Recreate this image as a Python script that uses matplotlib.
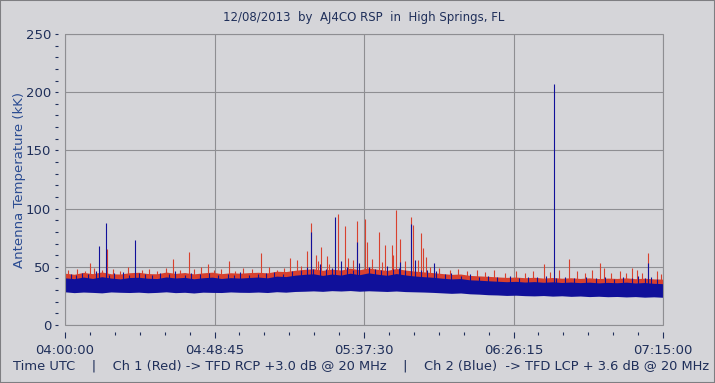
import numpy as np
import matplotlib
matplotlib.use("Agg")
import matplotlib.pyplot as plt
from matplotlib.patches import Rectangle

# ===============================
# Data (minutes after 04:00 UTC, antenna temperature in kK)
# ===============================
t_env = np.arange(0, 196, 3)

blue_lo = [28.5, 27.8, 28.3, 28.0, 27.6, 28.4, 28.1, 27.9, 28.2, 27.7, 28.0, 28.5, 27.8, 28.1, 27.5, 28.2, 28.0, 27.9, 28.4, 28.1,
           28.0, 28.3, 27.9, 28.6, 28.2, 28.8, 29.0, 29.3, 28.9, 29.5, 29.2, 29.6, 29.0, 29.4, 29.1, 28.8, 29.2, 28.7, 28.5, 28.3,
           28.0, 27.6, 27.2, 27.5, 26.8, 26.5, 26.0, 25.8, 25.4, 25.6, 25.2, 25.0, 25.3, 24.8, 25.1, 24.6, 24.9, 24.4, 24.7, 24.3,
           24.5, 24.1, 24.4, 23.9, 24.2, 23.8]

blue_hi = [40.5, 39.8, 41.2, 40.0, 41.5, 40.3, 39.6, 40.8, 41.0, 40.2, 39.9, 41.3, 40.4, 40.9, 39.7, 40.6, 41.1, 40.0, 40.7, 40.3,
           40.8, 41.2, 40.5, 42.0, 41.6, 42.8, 43.5, 44.0, 42.6, 43.8, 42.9, 44.5, 43.2, 44.8, 43.6, 42.7, 44.2, 43.0, 42.1, 41.5,
           41.0, 40.2, 39.6, 39.9, 38.8, 38.5, 38.0, 37.6, 37.2, 37.5, 36.9, 37.3, 36.7, 37.1, 36.5, 36.9, 36.4, 36.8, 36.2, 36.6,
           36.3, 36.8, 36.1, 36.5, 35.8, 35.5]

red_hi = [44.5, 43.6, 45.2, 44.1, 45.6, 44.0, 43.8, 44.9, 45.3, 44.2, 44.0, 45.5, 44.3, 45.1, 43.9, 44.8, 45.4, 44.1, 44.9, 44.5,
          45.0, 45.3, 44.8, 46.2, 45.9, 47.0, 47.8, 48.3, 47.0, 48.0, 47.2, 48.8, 47.5, 49.0, 47.8, 46.9, 48.5, 47.2, 46.3, 45.6,
          45.0, 44.2, 43.5, 43.8, 42.6, 42.2, 41.8, 41.3, 40.9, 41.2, 40.6, 41.0, 40.3, 40.8, 40.2, 40.6, 40.0, 40.5, 39.9, 40.3,
          40.0, 40.5, 39.8, 40.2, 39.6, 39.4]

# spikes: Ch 1 (red)
red_t = [1, 4, 6.5, 9.5, 12, 15.5, 18, 20.5, 25, 27.5, 30, 33, 37.5, 42, 44.5, 48.5, 51, 55.5, 58, 61,
         66.5, 69, 71.5, 77, 82.5, 86, 94, 100, 103.5, 107, 111, 115, 119, 122, 125.5, 128, 131, 134.5, 137, 140,
         143.5, 147, 150, 152.5, 158, 161, 167, 169.5, 172, 178, 181, 183, 186.5, 188, 193, 194.5,
         8.3, 13.8, 35.3, 40.5, 46.7, 53.6, 63.8, 73.4, 75.8, 78.9, 80.2, 81.8, 83.5, 85.5, 89.1, 91.3, 92.4,
         95.3, 97.9, 98.6, 102.3, 104.4, 106.5, 108, 109.4, 112.8, 113.6, 116.2, 116.8, 117.7,
         156.2, 164.4, 174.4, 175.8, 184.8, 190.2]
red_v = [47, 48.5, 46, 49, 47.5, 48, 46.5, 49.5, 47, 48.5, 46, 49, 47.5, 48, 50, 47, 48.5, 46.5, 49, 48,
         50, 47.5, 49, 51, 55, 52, 56, 57, 54, 60, 55, 56, 50, 49, 47, 48.5, 46, 47.5, 45.5, 47,
         45, 46.5, 44.5, 46, 45.5, 47, 46, 44.5, 47, 45, 46.5, 45, 47.5, 45, 46, 44,
         53.5, 65, 57, 63, 52, 55, 62, 57.5, 56, 63.5, 88, 60, 67, 59, 95.4, 85, 57.5,
         89, 91, 71.6, 79.6, 68.7, 68.7, 98.8, 73.9, 93, 86, 79, 66, 58.7,
         52, 57, 53, 48.7, 49, 62]

# spikes: Ch 2 (blue)
blue_t = [2, 3.5, 5.5, 7.5, 10, 14.5, 16, 19, 21, 24, 26, 28.5, 31, 34, 36, 39, 41, 44, 47, 50,
          53, 55, 57, 60, 63, 65.5, 68, 71, 74, 77, 79, 81, 83, 85, 87, 90, 92, 94, 96, 99,
          101, 103, 105, 107, 109, 111, 114, 116, 118, 121, 124, 126, 129, 132, 135, 138, 141, 145, 148, 151,
          154, 157, 160, 163, 166, 170, 173, 176, 179, 182, 185, 187, 189, 191, 193,
          11.2, 13.5, 22.9, 80.2, 88.1, 95.3, 109.4, 112.8, 120.3, 159.5, 190.2]
blue_v = [44, 43, 45, 43.5, 46, 43, 44.5, 45.5, 43, 44.5, 44, 43, 45, 43.5, 46, 43, 44.5, 43.5, 45, 43,
          44, 43, 45.5, 43, 44, 45, 45.5, 44, 46, 47, 50, 48, 52, 48, 49, 55, 50, 47.5, 53, 50,
          48, 47, 51, 48.5, 49, 47, 56, 47.5, 47, 46, 43.5, 45, 42.5, 44, 41.5, 42.5, 41, 42, 40.5, 41.5,
          41, 42, 40.5, 41, 40, 41.5, 40, 41, 39.5, 41.5, 40, 42, 40.5, 41, 39.5,
          68, 88, 73, 80, 93, 71.6, 54, 87, 53.5, 207, 53.5]

x_ticks = [0, 48.75, 97.5, 146.25, 195]
x_labels = ["04:00:00", "04:48:45", "05:37:30", "06:26:15", "07:15:00"]

# ===============================
# Plot
# ===============================
BG = "#D5D5D9"
TXT = "#1F2F5A"
RED = "#D8412E"
BLUE = "#10109A"

fig = plt.figure(figsize=(7.15, 3.83), dpi=100, facecolor=BG)
ax = fig.add_axes([65 / 715, 1 - 325 / 383, 598 / 715, 291 / 383], facecolor=BG)

base = [b + 4 for b in blue_lo]
ax.fill_between(t_env, base, red_hi, color=RED, lw=0, zorder=2)
ax.vlines(red_t, 33, red_v, color=RED, lw=0.8, zorder=2)
ax.fill_between(t_env, blue_lo, blue_hi, color=BLUE, lw=0, zorder=3)
ax.vlines(blue_t, 30, blue_v, color=BLUE, lw=0.8, zorder=3)

ax.set_xlim(0, 195)
ax.set_ylim(0, 250)
ax.set_xticks(x_ticks)
ax.set_xticklabels(x_labels)
ax.set_xticks(np.arange(0, 195.1, 48.75 / 6), minor=True)
ax.set_yticks(range(0, 251, 50))
ax.set_yticks(range(0, 251, 10), minor=True)
ax.grid(True, which="major", color="#8E8E92", lw=0.8, zorder=1)

for s in ax.spines.values():
    s.set_visible(False)
ax.spines["left"].set_position(("outward", 5))
ax.spines["bottom"].set_position(("outward", 5))
ax.add_patch(Rectangle((0, 0), 1, 1, transform=ax.transAxes, fill=False,
                       ec="#8E8E92", lw=0.8, zorder=4, clip_on=False))

ax.tick_params(axis="x", which="major", length=4.5, width=0.8, color=TXT,
               labelcolor=TXT, labelsize=9.5, pad=4.5)
ax.tick_params(axis="x", which="minor", length=2.5, width=0.8, color=TXT)
ax.tick_params(axis="y", which="both", length=2, width=0.8, color=TXT,
               labelcolor=TXT, labelsize=9.5, pad=3)

fig.text(364 / 715, 1 - 17 / 383, "12/08/2013  by  AJ4CO RSP  in  High Springs, FL",
         ha="center", va="center", fontsize=8.5, color=TXT)
fig.text(20 / 715, 1 - 180 / 383, "Antenna Temperature (kK)", rotation=90,
         ha="center", va="center", fontsize=9.5, color="#2B4C92")
fig.text(13 / 715, 1 - 366 / 383,
         "Time UTC    |    Ch 1 (Red) -> TFD RCP +3.0 dB @ 20 MHz    |    Ch 2 (Blue)  -> TFD LCP + 3.6 dB @ 20 MHz",
         ha="left", va="center", fontsize=9.4, color=TXT)

fig.patches.append(Rectangle((0, 0), 1, 1, transform=fig.transFigure, fill=False,
                             ec="#7E7E82", lw=1.5))

plt.savefig("out.png", dpi=100, facecolor=BG)
